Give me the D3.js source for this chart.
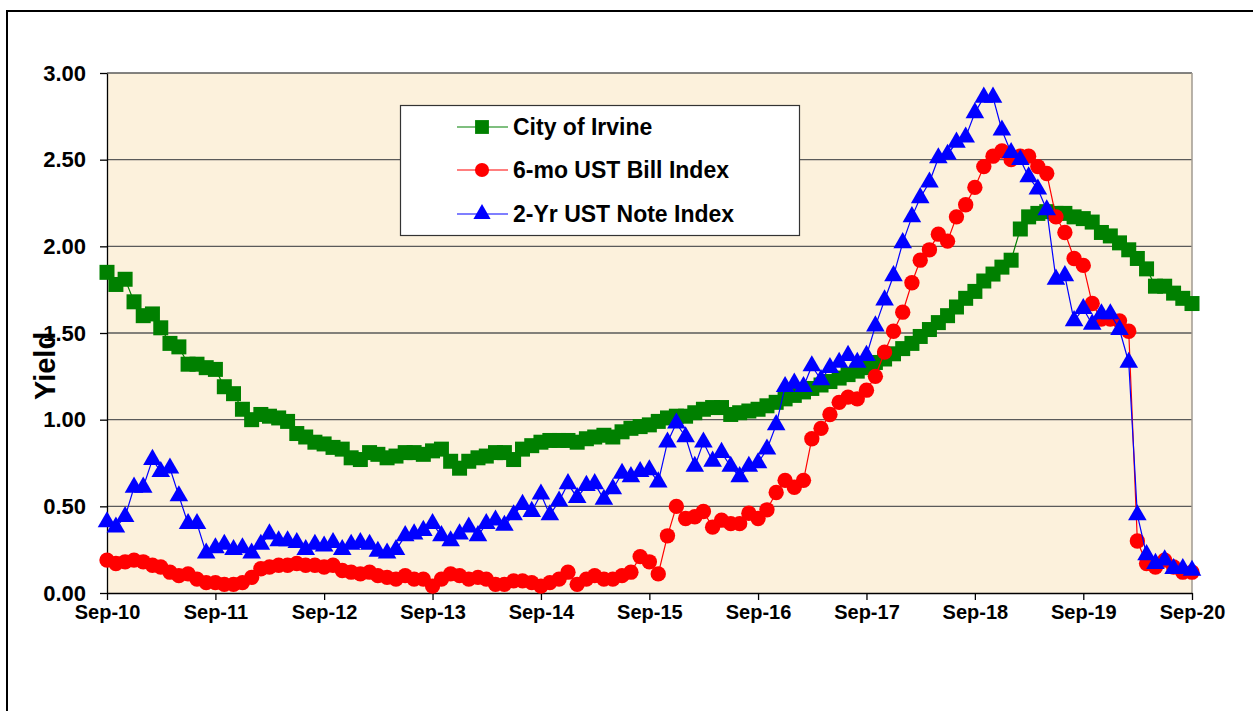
<!DOCTYPE html>
<html>
<head>
<meta charset="utf-8">
<script src="https://cdn.jsdelivr.net/npm/d3@7/dist/d3.min.js"></script>
<style>
body { margin: 0; background: #fff; }
text { font-family: "Liberation Sans", Arial, sans-serif; font-weight: bold; fill: #000; }
</style>
</head>
<body>
<svg id="chart" width="1253" height="711"></svg>
<script>
// monthly yields, Sep-10 .. Sep-20
var startMonth = '2010-09';

var irvine = [
    1.85, 1.78, 1.81, 1.68, 1.60, 1.61, 1.53, 1.44, 1.42, 1.32,
    1.32, 1.30, 1.29, 1.19, 1.15, 1.06, 1.00, 1.03, 1.02, 1.01,
    0.99, 0.92, 0.90, 0.87, 0.86, 0.84, 0.83, 0.78, 0.77, 0.81,
    0.80, 0.78, 0.79, 0.81, 0.81, 0.80, 0.82, 0.83, 0.76, 0.72,
    0.76, 0.78, 0.79, 0.81, 0.81, 0.77, 0.83, 0.85, 0.87, 0.88,
    0.88, 0.88, 0.87, 0.89, 0.90, 0.91, 0.90, 0.93, 0.95, 0.96,
    0.97, 0.99, 1.01, 1.02, 1.02, 1.04, 1.06, 1.07, 1.07, 1.03,
    1.04, 1.05, 1.06, 1.08, 1.10, 1.12, 1.14, 1.16, 1.18, 1.20,
    1.22, 1.24, 1.26, 1.28, 1.30, 1.33, 1.35, 1.38, 1.41, 1.44,
    1.48, 1.52, 1.56, 1.60, 1.65, 1.70, 1.74, 1.80, 1.84, 1.88,
    1.92, 2.10, 2.17, 2.19, 2.20, 2.19, 2.19, 2.17, 2.16, 2.14,
    2.08, 2.06, 2.02, 1.98, 1.93, 1.87, 1.77, 1.77, 1.73, 1.70, 1.67
];

var bill6mo = [
    0.19, 0.17, 0.18, 0.19, 0.18, 0.16, 0.15, 0.12, 0.10, 0.11,
    0.08, 0.06, 0.06, 0.05, 0.05, 0.06, 0.09, 0.14, 0.15, 0.16,
    0.16, 0.17, 0.16, 0.16, 0.15, 0.16, 0.13, 0.12, 0.11, 0.12,
    0.10, 0.09, 0.08, 0.10, 0.08, 0.08, 0.04, 0.08, 0.11, 0.10,
    0.08, 0.09, 0.08, 0.05, 0.05, 0.07, 0.07, 0.06, 0.04, 0.06,
    0.08, 0.12, 0.05, 0.08, 0.10, 0.08, 0.08, 0.10, 0.12, 0.21,
    0.18, 0.11, 0.33, 0.50, 0.43, 0.44, 0.47, 0.38, 0.42, 0.40,
    0.40, 0.46, 0.43, 0.48, 0.58, 0.65, 0.61, 0.65, 0.89, 0.95,
    1.03, 1.10, 1.13, 1.12, 1.17, 1.25, 1.39, 1.51, 1.62, 1.79,
    1.92, 1.98, 2.07, 2.03, 2.17, 2.24, 2.34, 2.46, 2.52, 2.55,
    2.50, 2.52, 2.52, 2.46, 2.42, 2.17, 2.08, 1.93, 1.89, 1.67,
    1.58, 1.58, 1.57, 1.51, 0.30, 0.17, 0.15, 0.19, 0.15, 0.12, 0.12
];

var note2yr = [
    0.41, 0.38, 0.44, 0.61, 0.61, 0.77, 0.70, 0.72, 0.56, 0.40,
    0.40, 0.23, 0.26, 0.28, 0.25, 0.26, 0.23, 0.28, 0.34, 0.30,
    0.30, 0.29, 0.25, 0.28, 0.27, 0.29, 0.25, 0.28, 0.29, 0.28,
    0.24, 0.23, 0.25, 0.33, 0.34, 0.36, 0.40, 0.33, 0.30, 0.34,
    0.38, 0.33, 0.40, 0.42, 0.39, 0.45, 0.51, 0.47, 0.57, 0.45,
    0.53, 0.63, 0.55, 0.62, 0.63, 0.54, 0.60, 0.69, 0.67, 0.70,
    0.71, 0.64, 0.87, 0.98, 0.90, 0.73, 0.87, 0.76, 0.81, 0.73,
    0.67, 0.73, 0.75, 0.83, 0.97, 1.19, 1.21, 1.19, 1.31, 1.23,
    1.30, 1.33, 1.37, 1.33, 1.37, 1.54, 1.69, 1.83, 2.02, 2.17,
    2.28, 2.37, 2.51, 2.53, 2.60, 2.63, 2.77, 2.86, 2.86, 2.67,
    2.54, 2.50, 2.40, 2.33, 2.21, 1.81, 1.83, 1.57, 1.64, 1.55,
    1.61, 1.61, 1.52, 1.33, 0.45, 0.22, 0.17, 0.19, 0.14, 0.14, 0.13
];

var seriesNames = ['City of Irvine', '6-mo UST Bill Index', '2-Yr UST Note Index'];
var yTicks = [0, 0.5, 1, 1.5, 2, 2.5, 3];
var xTickLabels = ['Sep-10', 'Sep-11', 'Sep-12', 'Sep-13', 'Sep-14', 'Sep-15',
    'Sep-16', 'Sep-17', 'Sep-18', 'Sep-19', 'Sep-20'];

var svg = d3.select('#chart');
var plotLeft = 107, plotRight = 1192, plotTop = 73, plotBottom = 593;

var start = d3.utcParse('%Y-%m')(startMonth);
function dateAt(i) {
    return d3.utcMonth.offset(start, i);
}

var x = d3.scaleTime()
    .domain([start, dateAt(120)])
    .range([plotLeft, plotRight]);

var y = d3.scaleLinear()
    .domain([0, 3])
    .range([plotBottom, plotTop]);

// outer chart frame (runs off the right and bottom)
svg.append('path')
    .attr('d', 'M7,720 L7,11 L1260,11')
    .attr('fill', 'none')
    .attr('stroke', '#000')
    .attr('stroke-width', 2);

// plot background
svg.append('rect')
    .attr('x', plotLeft)
    .attr('y', plotTop)
    .attr('width', plotRight - plotLeft)
    .attr('height', plotBottom - plotTop)
    .attr('fill', '#fcf1dc');

// gridlines
svg.append('g')
    .selectAll('line')
    .data(yTicks.filter(function(d) { return d > 0; }))
    .enter()
    .append('line')
    .attr('x1', plotLeft)
    .attr('x2', plotRight)
    .attr('y1', function(d) { return y(d); })
    .attr('y2', function(d) { return y(d); })
    .attr('stroke', '#5a5a5a')
    .attr('stroke-width', 1.3);

svg.append('line')
    .attr('x1', plotRight).attr('x2', plotRight)
    .attr('y1', plotTop).attr('y2', plotBottom)
    .attr('stroke', '#a09a90')
    .attr('stroke-width', 1.5);

// axes
var yAxis = d3.axisLeft(y)
    .tickValues(yTicks)
    .tickFormat(d3.format('.2f'))
    .tickSize(7)
    .tickSizeOuter(0)
    .tickPadding(14);

var gy = svg.append('g')
    .attr('transform', 'translate(' + plotLeft + ',0)')
    .call(yAxis);
gy.selectAll('text').style('font-size', '22px');

var xAxis = d3.axisBottom(x)
    .tickValues(xTickLabels.map(function(d, i) { return dateAt(i * 12); }))
    .tickFormat(function(d, i) { return xTickLabels[i]; })
    .tickSize(7)
    .tickSizeOuter(0)
    .tickPadding(5);

var gx = svg.append('g')
    .attr('transform', 'translate(0,' + plotBottom + ')')
    .call(xAxis);
gx.selectAll('text').style('font-size', '20px');

svg.selectAll('.domain, .tick line')
    .attr('stroke', '#000')
    .attr('stroke-width', 1.3);

// series
var series = [
    { name: seriesNames[0], values: irvine, color: '#008000', shape: d3.symbolSquare, size: 225 },
    { name: seriesNames[1], values: bill6mo, color: '#ff0000', shape: d3.symbolCircle, size: 185 },
    { name: seriesNames[2], values: note2yr, color: '#0000ff', shape: d3.symbolTriangle, size: 150 }
];

var line = d3.line()
    .x(function(d, i) { return x(dateAt(i)); })
    .y(function(d) { return y(d); });

var groups = svg.append('g')
    .selectAll('g')
    .data(series)
    .enter()
    .append('g');

groups.append('path')
    .attr('d', function(s) { return line(s.values); })
    .attr('fill', 'none')
    .attr('stroke', function(s) { return s.color; })
    .attr('stroke-width', 1.2);

groups.each(function(s) {
    d3.select(this)
        .selectAll('path.mark')
        .data(s.values)
        .enter()
        .append('path')
        .attr('class', 'mark')
        .attr('transform', function(d, i) {
            return 'translate(' + x(dateAt(i)) + ',' + y(d) + ')';
        })
        .attr('d', d3.symbol().type(s.shape).size(s.size))
        .attr('fill', s.color);
});

// axis title sits over the 1.50 label, as in the original
svg.append('text')
    .attr('transform', 'translate(55,366) rotate(-90)')
    .attr('text-anchor', 'middle')
    .style('font-size', '29px')
    .text('Yield');

// legend
var legend = svg.append('g');

legend.append('rect')
    .attr('x', 400.5)
    .attr('y', 105.5)
    .attr('width', 399)
    .attr('height', 130)
    .attr('fill', '#fff')
    .attr('stroke', '#333')
    .attr('stroke-width', 1.2);

var rows = legend.selectAll('g.row')
    .data(series)
    .enter()
    .append('g')
    .attr('class', 'row')
    .attr('transform', function(d, i) {
        return 'translate(0,' + [127, 170, 214][i] + ')';
    });

rows.append('line')
    .attr('x1', 457)
    .attr('x2', 508)
    .attr('stroke', function(d) { return d.color; })
    .attr('stroke-width', 1.2);

rows.append('path')
    .attr('transform', 'translate(482,0)')
    .attr('d', function(d) { return d3.symbol().type(d.shape).size(d.size * 0.85)(); })
    .attr('fill', function(d) { return d.color; });

rows.append('text')
    .attr('x', 513)
    .attr('dy', '0.36em')
    .style('font-size', '23px')
    .text(function(d) { return d.name; });
</script>
</body>
</html>
